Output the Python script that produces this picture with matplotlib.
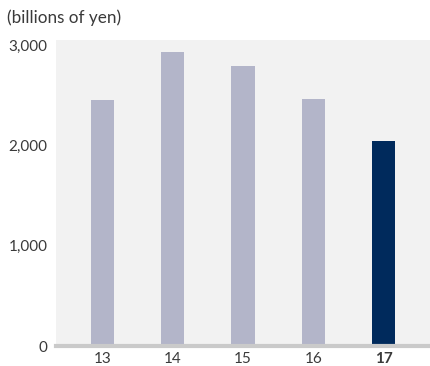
import matplotlib
matplotlib.use('Agg')
import matplotlib.pyplot as plt

# fiscal years and values (billions of yen)
years = ['13', '14', '15', '16', '17']
values = [2450, 2930, 2790, 2460, 2040]
bar_colors = ['#b3b5c9', '#b3b5c9', '#b3b5c9', '#b3b5c9', '#002a5c']
yticks = [0, 1000, 2000, 3000]
ytick_labels = ['0', '1,000', '2,000', '3,000']

plt.rcParams['font.family'] = ['Lato', 'DejaVu Sans']
text_color = '#3a3a3a'

fig = plt.figure(figsize=(4.3, 3.66), dpi=100)
ax = fig.add_axes([56 / 430, 20 / 366, 374 / 430, 306 / 366])
ax.set_facecolor('#f2f2f2')

x = range(len(years))
ax.bar(x, values, width=0.33, color=bar_colors, zorder=2)

ax.set_xlim(-0.66, 4.66)
ax.set_ylim(0, 3050)
ax.set_yticks(yticks)
ax.set_yticklabels(ytick_labels)
ax.set_xticks(list(x))
ax.set_xticklabels(years)
ax.get_xticklabels()[-1].set_fontweight('bold')

ax.tick_params(axis='both', length=0, labelsize=11, colors=text_color)
ax.tick_params(axis='y', pad=6)
ax.tick_params(axis='x', pad=4)

for side in ['top', 'right', 'left']:
    ax.spines[side].set_visible(False)
ax.spines['bottom'].set_color('#cacaca')
ax.spines['bottom'].set_linewidth(3)
ax.spines['bottom'].set_zorder(3)

fig.text(7 / 430, 1 - 18 / 366, '(billions of yen)', fontsize=12.3,
         color=text_color, va='center', ha='left')

fig.savefig('out.png', dpi=100)
